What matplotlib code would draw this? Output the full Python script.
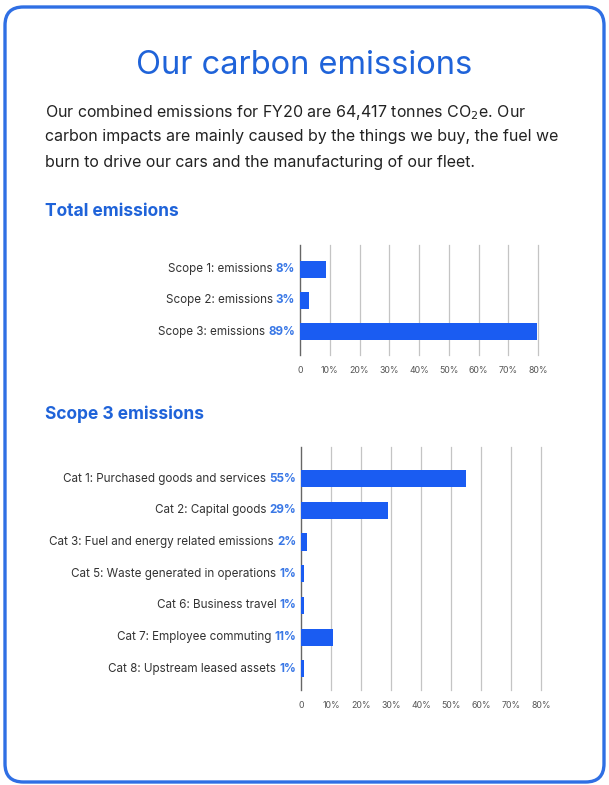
import matplotlib.pyplot as plt
from matplotlib.patches import FancyBboxPatch
from matplotlib.transforms import ScaledTranslation

plt.rcParams['font.family'] = ['Inter', 'DejaVu Sans']

# data
scope_names = ['Scope 1: emissions', 'Scope 2: emissions', 'Scope 3: emissions']
scope_pct = ['8%', '3%', '89%']
scope_bars = [8.8, 3, 79.6]

cat_names = ['Cat 1: Purchased goods and services', 'Cat 2: Capital goods',
             'Cat 3: Fuel and energy related emissions',
             'Cat 5: Waste generated in operations', 'Cat 6: Business travel',
             'Cat 7: Employee commuting', 'Cat 8: Upstream leased assets']
cat_pct = ['55%', '29%', '2%', '1%', '1%', '11%', '1%']
cat_bars = [55, 29, 2, 1, 1, 10.7, 1]

ticks = [0, 10, 20, 30, 40, 50, 60, 70, 80]
tick_labels = ['0'] + [f'{t}%' for t in ticks[1:]]

BLUE = '#1a5cf2'
TITLE_BLUE = '#1f63d9'
PCT_BLUE = '#3a78e6'
TEXT = '#222222'

W, H = 609, 785
fig = plt.figure(figsize=(W / 100, H / 100), dpi=100)
fig.patch.set_facecolor('white')

box = FancyBboxPatch((5 / W, 3 / H), 599 / W, 775 / H,
                     boxstyle='round,pad=0,rounding_size=0.03',
                     transform=fig.transFigure, fill=False,
                     edgecolor='#2f6fe4', linewidth=2.4,
                     mutation_aspect=W / H)
fig.patches.append(box)

fig.text(0.5, 1 - 66 / H, 'Our carbon emissions', ha='center', va='center',
         fontsize=23.5, color=TITLE_BLUE)
para = ['Our combined emissions for FY20 are 64,417 tonnes CO$_2$e. Our',
        'carbon impacts are mainly caused by the things we buy, the fuel we',
        'burn to drive our cars and the manufacturing of our fleet.']
for i, line in enumerate(para):
    fig.text(45 / W, 1 - (112 + 25 * i) / H, line, ha='left', va='center',
             fontsize=11.5, color=TEXT)

fig.text(45 / W, 1 - 211 / H, 'Total emissions', ha='left', va='center',
         fontsize=12.5, fontweight='bold', color=TITLE_BLUE)
fig.text(45 / W, 1 - 414 / H, 'Scope 3 emissions', ha='left', va='center',
         fontsize=12.5, fontweight='bold', color=TITLE_BLUE)


def bar_panel(rect, names, pcts, vals, ylim):
    ax = fig.add_axes(rect)
    y = list(range(len(names)))
    ax.barh(y, vals, height=0.54, color=BLUE, zorder=3)
    ax.set_xlim(0, 80)
    ax.set_ylim(*ylim)
    for t in ticks:
        ax.axvline(t, color='#666666' if t == 0 else '#c4c4c4',
                   lw=1.0 if t == 0 else 0.9, zorder=1, clip_on=False)
    for s in ax.spines.values():
        s.set_visible(False)
    ax.set_yticks([])
    ax.set_xticks(ticks)
    ax.set_xticklabels(tick_labels)
    ax.tick_params(axis='x', length=0, labelsize=6.3, labelcolor='#555555', pad=8)
    r = fig.canvas.get_renderer()
    for yi, n, p in zip(y, names, pcts):
        off = ScaledTranslation(-3.5 / 72, 0, fig.dpi_scale_trans)
        tp = ax.text(0, yi, p, transform=ax.get_yaxis_transform() + off,
                     ha='right', va='center', fontsize=8.4, fontweight='bold',
                     color=PCT_BLUE)
        wpx = tp.get_window_extent(r).width
        off2 = ScaledTranslation(-(3.5 + 2.2) / 72 - wpx / fig.dpi, 0,
                                 fig.dpi_scale_trans)
        ax.text(0, yi, n, transform=ax.get_yaxis_transform() + off2,
                ha='right', va='center', fontsize=8.4, color='#333333')
    return ax


bar_panel([300 / W, 1 - 355 / H, 238 / W, 110 / H],
          scope_names, scope_pct, scope_bars, (2.74, -0.77))
bar_panel([301 / W, 1 - 690 / H, 240 / W, 243 / H],
          cat_names, cat_pct, cat_bars, (6.67, -1.0))

fig.savefig('out.png', dpi=100)
